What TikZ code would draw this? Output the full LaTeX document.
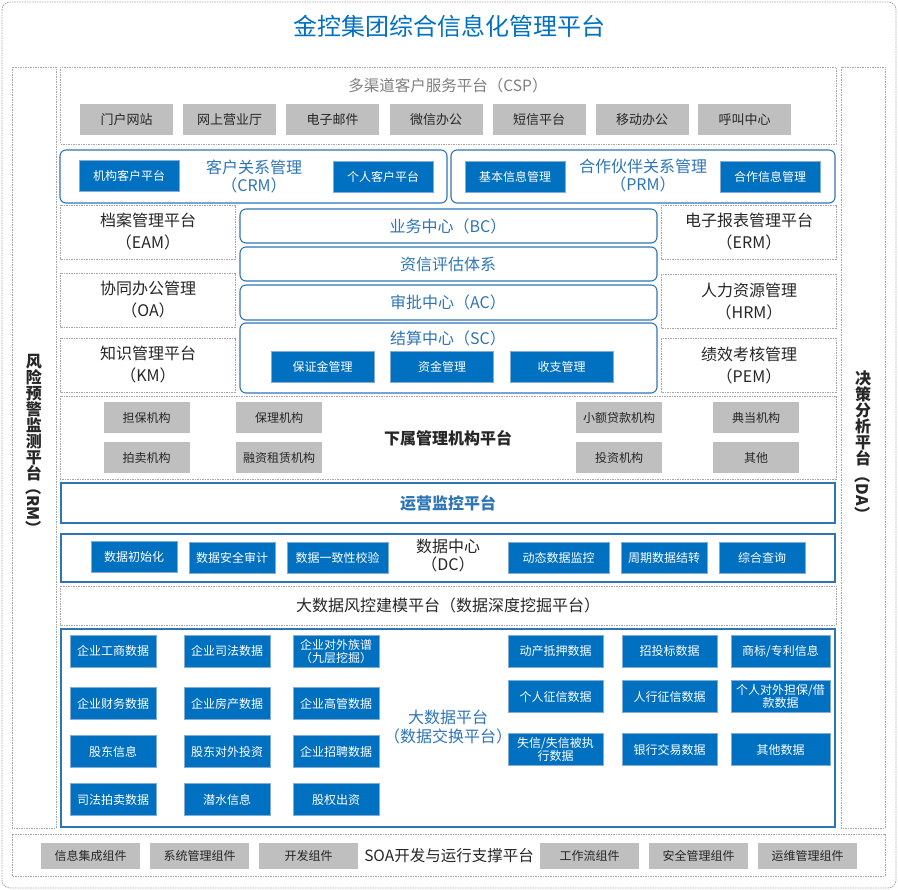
\documentclass[tikz,border=0pt]{standalone}
\usepackage{fontspec}
\setmainfont{Noto Sans CJK SC}
\usepackage{xcolor}
\definecolor{Frame}{HTML}{A6A6A6}
\definecolor{Brand}{HTML}{0070C0}
\definecolor{Line}{HTML}{2E75B6}
\definecolor{Tile}{HTML}{BFBFBF}
\definecolor{Ink}{HTML}{262626}
\definecolor{Mute}{HTML}{7F7F7F}
\begin{document}
\begin{tikzpicture}[x=1pt,y=-1pt,dashframe/.style={draw=Frame, line width=0.8pt, dash pattern=on 1.5pt off 1pt},blueframe/.style={draw=Line, line width=1.1pt},roundframe/.style={draw=Line, line width=1.1pt, rounded corners=6pt},bluebox/.style={fill=Brand, draw=Line!60, line width=0.5pt, text=white, minimum height=31pt, inner sep=1pt, align=center, font=\fontsize{12}{13}\selectfont},graybox/.style={fill=Tile, text=Ink, minimum height=31pt, inner sep=1pt, font=\fontsize{12}{14}\selectfont},titletext/.style={align=center, text=Ink, inner sep=0pt, font=\fontsize{16}{19}\selectfont},vertext/.style={align=center, text=Ink, inner sep=0pt, font=\fontsize{16}{16}\selectfont\bfseries}]
\useasboundingbox (0,0) rectangle (898,890);
\draw[dashframe, rounded corners=8pt] (2,2) rectangle (896,888);
\node[text=Brand, font=\fontsize{24}{28}\selectfont] (title) at (449,26) {金控集团综合信息化管理平台};
% side columns
\draw[dashframe] (12,67) rectangle (56,828); \draw[dashframe] (841,67) rectangle (885,828);
\node[vertext] (rm) at (34,417.5) {风\\险\\预\\警\\监\\测\\平\\台}; \node[vertext, rotate=-90] (rmcode) at (34,508) {（RM）};
\node[vertext] (da) at (863,418.5) {决\\策\\分\\析\\平\\台}; \node[vertext, rotate=-90] (dacode) at (863,495) {（DA）};
% customer service channels
\draw[dashframe] (60,67) rectangle (836,144);
\node[titletext, text=Mute, font=\fontsize{15.5}{18}\selectfont] (csp) at (448,86) {多渠道客户服务平台（CSP）};
\foreach \n/\x/\t in {1/126.5/门户网站,2/229.5/网上营业厅,3/332.5/电子邮件,4/436/微信办公,5/539/短信平台,6/642/移动办公,7/744.5/呼叫中心} {\node[graybox, minimum width=93pt, font=\fontsize{13}{15}\selectfont] (csp\n) at (\x,119.5) {\t};}
% CRM and PRM
\draw[roundframe] (60,150) rectangle (447,203); \draw[roundframe] (451,150) rectangle (835,203);
\node[bluebox, minimum width=100pt] (crm1) at (129,176) {机构客户平台}; \node[bluebox, minimum width=100pt] (crm2) at (383,176.5) {个人客户平台};
\node[titletext, text=Line, font=\fontsize{16}{18}\selectfont] (crm) at (254,176) {客户关系管理\\（CRM）};
\node[bluebox, minimum width=100pt] (prm1) at (515,176.5) {基本信息管理}; \node[bluebox, minimum width=100pt] (prm2) at (770,176.5) {合作信息管理};
\node[titletext, text=Line, font=\fontsize{16}{18}\selectfont] (prm) at (643,176) {合作伙伴关系管理\\（PRM）};
% office systems left and right
\foreach \n/\x/\y/\t/\s in {eam/148/232/档案管理平台/EAM,oa/148/300/协同办公管理/OA,km/148/365/知识管理平台/KM,erm/749/232/电子报表管理平台/ERM,hrm/749/301.5/人力资源管理/HRM,pem/749/365.5/绩效考核管理/PEM} {\draw[dashframe] ({\x-88},{\y-27}) rectangle ({\x+87},{\y+27}); \node[titletext, font=\fontsize{16}{22}\selectfont] (\n) at (\x,\y) {\t\\（\s）};}
% business core
\draw[roundframe] (240,209) rectangle (657,243); \draw[roundframe] (240,247) rectangle (657,281); \draw[roundframe] (240,285) rectangle (657,320); \draw[roundframe] (240,323) rectangle (657,393);
\node[titletext, text=Line] (bc) at (448,226) {业务中心（BC）}; \node[titletext, text=Line] (credit) at (448,264) {资信评估体系}; \node[titletext, text=Line] (ac) at (448,302.5) {审批中心（AC）}; \node[titletext, text=Line] (sc) at (448,338) {结算中心（SC）};
\foreach \n/\x/\t in {1/322.5/保证金管理,2/442/资金管理,3/561.5/收支管理} {\node[bluebox, minimum width=103pt] (sc\n) at (\x,366.5) {\t};}
% subsidiaries
\draw[dashframe] (60,396) rectangle (836,479);
\node[titletext, font=\fontsize{16}{19}\selectfont\bfseries] (sub) at (448,438) {下属管理机构平台};
\foreach \n/\x/\y/\t in {1/146.5/417.5/担保机构,2/279/417.5/保理机构,3/619/417.5/小额贷款机构,4/756/417.5/典当机构,5/146.5/458/拍卖机构,6/279/458/融资租赁机构,7/619/458/投资机构,8/756/458/其他} {\node[graybox, minimum width=86pt] (sub\n) at (\x,\y) {\t};}
% operations and data centre
\draw[blueframe] (61,483) rectangle (835,523);
\node[titletext, text=Line, font=\fontsize{16}{19}\selectfont\bfseries] (ops) at (448,503) {运营监控平台};
\draw[blueframe] (61,534) rectangle (835,582);
\node[titletext, font=\fontsize{16}{18}\selectfont] (dc) at (448,556) {数据中心\\（DC）};
\foreach \n/\x/\y/\w/\t in {1/134/556.5/86/数据初始化,2/232/558/86/数据安全审计,3/337.5/558/101/数据一致性校验,4/558.5/558/101/动态数据监控,5/664/558/86/周期数据结转,6/762/558/86/综合查询} {\node[bluebox, minimum width=\w pt] (dc\n) at (\x,\y) {\t};}
\draw[dashframe] (60,586) rectangle (836,625);
\node[titletext] (model) at (448,605) {大数据风控建模平台（数据深度挖掘平台）};
% big data exchange
\draw[blueframe] (61,629) rectangle (835,827);
\node[titletext, text=Line, font=\fontsize{16}{19}\selectfont] (bigdata) at (448,727) {大数据平台\\（数据交换平台）};
\foreach \n/\x/\y/\t in {1/113/651/企业工商数据,2/227/651/企业司法数据,3/336/651/企业对外族谱\\（九层挖掘）,4/113/703.5/企业财务数据,5/227/703.5/企业房产数据,6/336/703.5/企业高管数据,7/113/751.5/股东信息,8/227/751.5/股东对外投资,9/336/751.5/企业招聘数据,10/113/799.5/司法拍卖数据,11/227/799.5/潜水信息,12/336/799.5/股权出资} {\node[bluebox, minimum width=86pt, minimum height=32pt] (bd\n) at (\x,\y) {\t};}
\foreach \n/\x/\y/\w/\t in {13/555.5/651/95/动产抵押数据,14/669.5/651/95/招投标数据,15/780.5/651/99/{商标/专利信息},16/555.5/696.5/95/个人征信数据,17/669.5/696.5/95/人行征信数据,18/780.5/696.5/99/{个人对外担保/借\\款数据},19/555.5/749.5/95/{失信/失信被执\\行数据},20/669.5/749.5/95/银行交易数据,21/780.5/749.5/99/其他数据} {\node[bluebox, minimum width=\w pt, minimum height=32pt] (bd\n) at (\x,\y) {\t};}
% SOA support
\draw[dashframe] (12,834) rectangle (885,876);
\node[titletext, font=\fontsize{15.5}{18}\selectfont] (soa) at (449,856) {SOA开发与运行支撑平台};
\foreach \n/\x/\t in {1/90.5/信息集成组件,2/199.5/系统管理组件,3/308.5/开发组件,4/589.5/工作流组件,5/698.5/安全管理组件,6/807.5/运维管理组件} {\node[graybox, minimum width=99pt, minimum height=26pt] (soa\n) at (\x,856) {\t};}
\end{tikzpicture}
\end{document}
